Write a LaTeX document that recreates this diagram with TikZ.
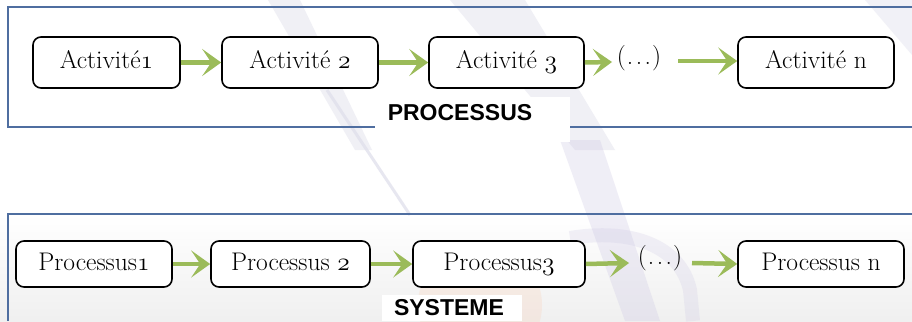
\RequirePackage{fix-cm}
\documentclass[tikz,border=0pt]{standalone}
\usepackage{fontspec}
\newfontfamily\labfont{Liberation Sans}
\usetikzlibrary{arrows.meta}
\newcommand\osn[1]{{\usefont{OML}{cmm}{m}{it}#1}}
\newcommand\mydots{(\hspace{1pt}.\hspace{2.5pt}.\hspace{2.5pt}.\hspace{1pt})}
\definecolor{framecol}{RGB}{79,110,160}
\definecolor{arrowcol}{RGB}{155,187,89}
\definecolor{wmgrey}{RGB}{222,222,235}
\definecolor{wmpurple}{RGB}{205,200,228}
\definecolor{wmorange}{RGB}{252,200,170}
\tikzset{
  stepbox/.style={draw=black, line width=1.6pt, rounded corners=8pt, fill=white,
    inner sep=0pt, text height=16pt, text depth=4pt,
    font=\fontsize{25.5}{30}\selectfont},
  dotsnode/.style={inner sep=0pt, font=\fontsize{25.5}{30}\selectfont},
  flow/.style={draw=arrowcol, line width=4.5pt,
    -{Stealth[length=19pt,width=27pt,inset=9pt]}},
  frameline/.style={draw=framecol, line width=2pt},
  labelbox/.style={fill=white, draw=none},
  labeltext/.style={inner sep=0pt, font=\fontsize{23}{27}\labfont\bfseries}
}
\begin{document}
\begin{tikzpicture}[x=1pt,y=-1pt]
\useasboundingbox (0,0) rectangle (912,321);
\fill[white] (0,0) rectangle (912,321);
% faint watermark
\shade[top color=white, bottom color=black!6] (0,214) rectangle (912,321);
\fill[wmgrey, opacity=0.45] (268,0) -- (300,0) -- (372,150) -- (355,150) -- cycle;
\fill[wmgrey, opacity=0.45] (450,0) -- (525,0) -- (615,150) -- (575,150) -- cycle;
\fill[wmgrey, opacity=0.4] (865,0) -- (912,0) -- (912,55) -- cycle;
\draw[wmgrey, line width=3pt, opacity=0.7] (327,90) -- (410,215);
\fill[wmorange, opacity=0.22] (480,305) circle (62);
\fill[wmpurple, opacity=0.3] (560,140) -- (600,140) -- (660,321) -- (625,321) -- cycle;
\draw[wmpurple, opacity=0.25, line width=14pt] (570,238) .. controls (630,228) and (680,245) .. (690,290) -- (693,321);

% top frame
\draw[frameline] (912,7.5) -- (7.5,7.5) -- (7.5,127) -- (912,127);
\fill[labelbox] (375,97) rectangle (570,142);
\node[labeltext] (lproc) at (460,112.5) {PROCESSUS};

\node[stepbox, minimum width=147pt, minimum height=51pt] (a1) at (106.5,62.5) {Activité\osn{1}};
\node[stepbox, minimum width=156pt, minimum height=51pt] (a2) at (300,62.5) {Activité \osn{2}};
\node[stepbox, minimum width=155pt, minimum height=51pt] (a3) at (506.5,62.5) {Activité \osn{3}};
\node[dotsnode] (ad) at (639,58) {\mydots};
\node[stepbox, minimum width=156pt, minimum height=51pt] (an) at (816,62.5) {Activité n};
\coordinate (ad1) at (612,62);
\coordinate (ad2) at (678,61);

\draw[flow] (a1.east) -- (a2.west);
\draw[flow] (a2.east) -- (a3.west);
\draw[flow] (a3.east) -- (ad1);
\draw[flow] (ad2) -- (an.west |- ad2);

% bottom frame
\draw[frameline] (912,214) -- (8,214) -- (8,321);
\fill[labelbox] (382,295) rectangle (522,321);
\node[labeltext] (lsys) at (449,308) {SYSTEME};

\node[stepbox, minimum width=156pt, minimum height=46pt] (p1) at (94,264) {Processus\osn{1}};
\node[stepbox, minimum width=159pt, minimum height=46pt] (p2) at (290.5,264) {Processus \osn{2}};
\node[stepbox, minimum width=172pt, minimum height=46pt] (p3) at (499,264) {Processus\osn{3}};
\node[dotsnode] (pd) at (660,258) {\mydots};
\node[stepbox, minimum width=166pt, minimum height=46pt] (pn) at (821,264) {Processus n};
\coordinate (pd1) at (629,263);
\coordinate (pd2) at (692,263);

\draw[flow] (p1.east) -- (p2.west);
\draw[flow] (p2.east) -- (p3.west);
\draw[flow] (p3.east) -- (pd1);
\draw[flow] (pd2) -- (pn.west);
\end{tikzpicture}
\end{document}
